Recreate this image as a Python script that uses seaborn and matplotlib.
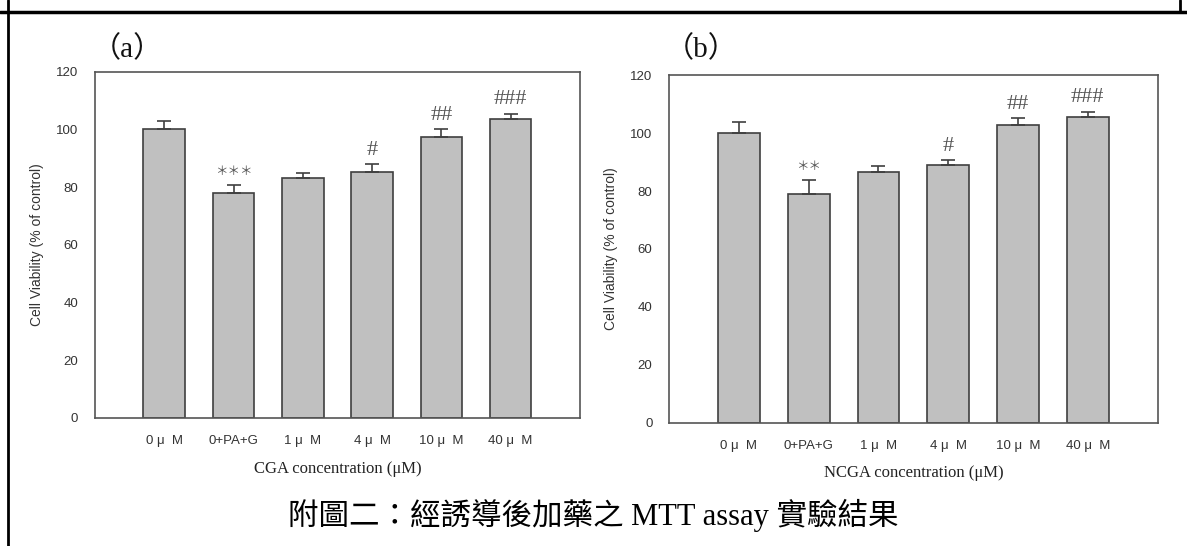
import numpy as np
import pandas as pd
import matplotlib
matplotlib.use("Agg")
import matplotlib.pyplot as plt
import seaborn as sns
from matplotlib.lines import Line2D

CATEGORIES = ["0 μ  M", "0+PA+G", "1 μ  M", "4 μ  M", "10 μ  M", "40 μ  M"]

CGA_MEAN = [100.0, 77.9, 83.2, 85.3, 97.3, 103.7]
CGA_ERR = [2.9, 3.0, 1.7, 2.8, 2.9, 1.8]
CGA_MARKS = ["", "＊＊＊", "", "#", "##", "###"]

NCGA_MEAN = [100.0, 79.1, 86.5, 88.9, 102.7, 105.6]
NCGA_ERR = [3.8, 4.6, 2.1, 1.8, 2.4, 1.8]
NCGA_MARKS = ["", "＊＊", "", "#", "##", "###"]

Y_TICKS = [0, 20, 40, 60, 80, 100, 120]

SERIF = ["Liberation Serif", "Noto Sans CJK TC"]
SANS = ["Liberation Sans", "DejaVu Sans"]
EDGE = "#3f3f3f"


def draw_panel(fig, rect, means, errs, marks, xlabel, tag):
    ax = fig.add_axes(rect)
    df = pd.DataFrame({"group": CATEGORIES, "viability": means})
    sns.barplot(data=df, x="group", y="viability", order=CATEGORIES,
                color="#c0c0c0", saturation=1, width=0.6,
                edgecolor=EDGE, linewidth=1.2, errorbar=None, ax=ax)

    x = np.arange(len(CATEGORIES))
    ax.errorbar(x, means, yerr=[np.zeros(len(errs)), errs], fmt="none",
                ecolor=EDGE, elinewidth=1.2, capsize=5, capthick=1.2)

    for xi, m, e, mark in zip(x, means, errs, marks):
        if not mark:
            continue
        star = "＊" in mark
        ax.annotate(mark, (xi, m + e), xytext=(0, 5 if star else 3),
                    textcoords="offset points", ha="center", va="bottom",
                    color="#555555", fontsize=9 if star else 16,
                    family=["Noto Sans CJK TC"] if star else SERIF)

    ax.set_xlim(-1, 6)
    ax.set_ylim(0, 120)
    ax.set_yticks(Y_TICKS)
    ax.set_xlabel(xlabel, family=SERIF, fontsize=12, color="#222222", labelpad=10)
    ax.set_ylabel("Cell Viability (% of control)", family=SANS, fontsize=10,
                  color="#333333", labelpad=9)
    for lab in ax.get_xticklabels() + ax.get_yticklabels():
        lab.set_family(SANS)
        lab.set_fontsize(9.5)
        lab.set_color("#333333")
    ax.tick_params(direction="out", length=5, width=1.1, color=EDGE, pad=7)
    for s in ax.spines.values():
        s.set_visible(True)
        s.set_color("#555555")
        s.set_linewidth(1.2)
    ax.set_facecolor("white")

    fig.text(rect[0] + 0.027, 0.91, tag, family=SERIF, fontsize=21,
             ha="center", va="center", color="#111111")
    return ax


sns.set_theme(style="white")
fig = plt.figure(figsize=(11.87, 5.46), dpi=100)
fig.patch.set_facecolor("white")

draw_panel(fig, [0.080, 0.2345, 0.4086, 0.634], CGA_MEAN, CGA_ERR, CGA_MARKS,
           "CGA concentration (μM)", "（a）")
draw_panel(fig, [0.5637, 0.2255, 0.4115, 0.637], NCGA_MEAN, NCGA_ERR, NCGA_MARKS,
           "NCGA concentration (μM)", "（b）")

fig.text(0.5, 0.056, "附圖二：經誘導後加藥之 MTT assay 實驗結果", family=SERIF,
         fontsize=22, ha="center", va="center", color="black")

# table cell border around the figure
fig.add_artist(Line2D([0, 1], [0.978, 0.978], color="black", lw=2.5,
                      transform=fig.transFigure))
fig.add_artist(Line2D([0.0065, 0.0065], [0, 1], color="black", lw=2.0,
                      transform=fig.transFigure))
fig.add_artist(Line2D([0.9945, 0.9945], [0.978, 1], color="black", lw=2.0,
                      transform=fig.transFigure))

fig.savefig("out.png", dpi=100)
